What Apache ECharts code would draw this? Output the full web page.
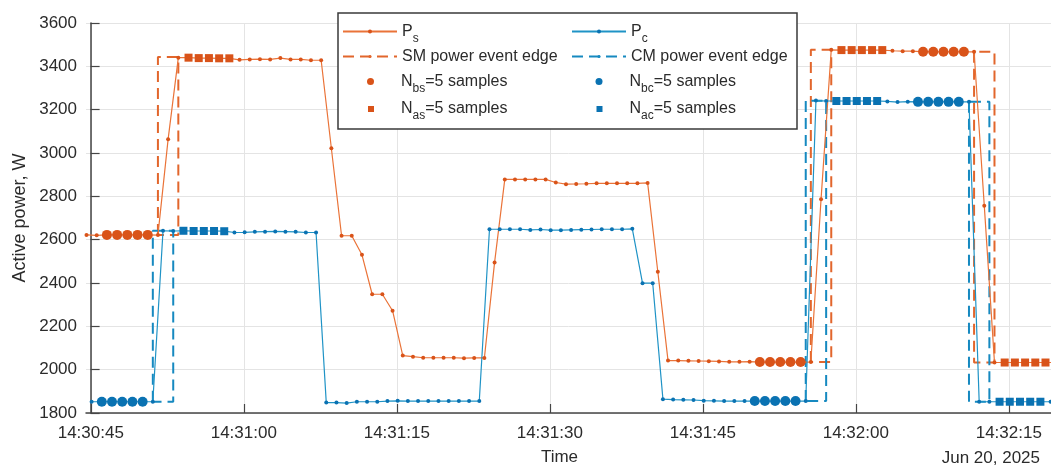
<!DOCTYPE html>
<html><head><meta charset="utf-8">
<script src="https://cdn.jsdelivr.net/npm/echarts@6/dist/echarts.min.js"></script>
<style>html,body{margin:0;padding:0;background:#fff}#c{width:1051px;height:466px}</style>
</head><body><div id="c"></div>
<script>
// ---------- data ----------
const startClock = '14:30:45';          // time of x = 0 s
const dateLabel = 'Jun 20, 2025';
const xTickStep = 15;                   // seconds
const yMin = 1800, yMax = 3600, yStep = 200;

// sample timing (seconds from 14:30:45)
const psStart = -0.4, pcStart = 0.1, samplePeriod = 1;

// P_s (SM active power, W), one sample per second
const psValues = [
  2622, 2620, 2622, 2622, 2622, 2622, 2622, 2621, 3064, 3440,
  3440, 3438, 3438, 3437, 3437,
  3430, 3432, 3433, 3432, 3438, 3432, 3432, 3428, 3428,
  3022, 2618, 2618, 2530, 2348, 2348, 2272, 2065, 2060,
  2055, 2055, 2055, 2055, 2053, 2054, 2054,
  2495, 2878, 2878, 2878, 2878, 2878, 2864, 2856,
  2857, 2858, 2860, 2860, 2860, 2860, 2860, 2862,
  2452, 2042, 2042, 2041, 2040, 2039, 2038, 2036, 2036, 2037,
  2035, 2035, 2035, 2035, 2035, 2035, 2787, 3476,
  3475, 3475, 3475, 3475, 3475, 3472, 3470, 3470,
  3467, 3467, 3467, 3467, 3467, 3467, 2757, 2033,
  2033, 2033, 2033, 2033, 2033, 2033
];
// P_c (CM active power, W)
const pcValues = [
  1852, 1852, 1852, 1852, 1852, 1852, 1852, 2641, 2640,
  2641, 2640, 2640, 2640, 2639,
  2633, 2634, 2636, 2637, 2638, 2637, 2636, 2633, 2633,
  1848, 1848, 1846, 1852, 1852, 1852, 1855, 1856,
  1855, 1855, 1855, 1855, 1855, 1855, 1855, 1855,
  2648, 2648, 2648, 2648, 2645, 2647, 2644, 2644, 2645, 2646, 2647, 2648, 2648, 2648, 2650,
  2399, 2399, 1864,
  1862, 1861, 1860, 1857, 1856, 1855, 1855, 1855,
  1855, 1855, 1855, 1855, 1855,
  1855, 3242, 3240,
  3240, 3240, 3240, 3240, 3240,
  3238, 3235, 3237,
  3236, 3236, 3236, 3236, 3236,
  3236, 1852, 1852,
  1852, 1852, 1852, 1852, 1852,
  1852
];

// N = 5 sample windows (first sample index of each window)
const windowLength = 5;
const psBeforeIdx = [2, 66, 82];
const psAfterIdx = [10, 74, 90];
const pcBeforeIdx = [1, 65, 81];
const pcAfterIdx = [9, 73, 89];

// power event edges (seconds from 14:30:45, levels in W)
const smEdgeStart = [6.6, 70.6, 86.6];
const smEdgeEnd = [8.6, 72.6, 88.6];
const smLevelBefore = [2621, 2035, 3467];
const smLevelAfter = [3443, 3476, 2033];
const cmEdgeStart = [6.1, 70.1, 86.1];
const cmEdgeEnd = [8.1, 72.1, 88.1];
const cmLevelBefore = [1852, 1855, 3237];
const cmLevelAfter = [2641, 3241, 1852];

// ---------- styling ----------
const FONT = 'Liberation Sans, Arial, sans-serif';
const TXT = '#2b2b2b';
const ORANGE_LINE = '#ea7338', ORANGE_MARK = '#d95319', ORANGE_DASH = '#e2662c';
const BLUE_LINE = '#1f93c6', BLUE_MARK = '#0a72b2', BLUE_DASH = '#1689c0';

const psSeries = psValues.map((v, i) => [psStart + i * samplePeriod, v]);
const pcSeries = pcValues.map((v, i) => [pcStart + i * samplePeriod, v]);
function windowPoints(src, starts) {
  const out = [];
  starts.forEach(s => { for (let j = 0; j < windowLength; j++) out.push(src[s + j]); });
  return out;
}
function edgeRect(x1, x2, a, b) {
  return [[x1, a], [x1, b], [x2, b], [x2, a], [x1, a]];
}
function clock(v) {
  const p = startClock.split(':').map(Number);
  const t = p[0] * 3600 + p[1] * 60 + p[2] + Math.round(v);
  const f = n => String(n).padStart(2, '0');
  return f(Math.floor(t / 3600)) + ':' + f(Math.floor((t % 3600) / 60)) + ':' + f(t % 60);
}

const series = [];
smEdgeStart.forEach((s, i) => series.push({
  name: 'SM power event edge', type: 'line', xAxisIndex: 0, yAxisIndex: 0,
  data: edgeRect(s, smEdgeEnd[i], smLevelBefore[i], smLevelAfter[i]),
  symbol: 'none', z: 2, lineStyle: { color: ORANGE_DASH, width: 2, type: [11, 6] }, itemStyle: { color: ORANGE_DASH }
}));
cmEdgeStart.forEach((s, i) => series.push({
  name: 'CM power event edge', type: 'line', xAxisIndex: 0, yAxisIndex: 0,
  data: edgeRect(s, cmEdgeEnd[i], cmLevelBefore[i], cmLevelAfter[i]),
  symbol: 'none', z: 2, lineStyle: { color: BLUE_DASH, width: 2, type: [11, 6] }, itemStyle: { color: BLUE_DASH }
}));
series.push({
  name: 'Ps', type: 'line', xAxisIndex: 0, yAxisIndex: 0, data: psSeries,
  symbol: 'circle', symbolSize: 4, showAllSymbol: true, z: 3,
  lineStyle: { color: ORANGE_LINE, width: 1.2 }, itemStyle: { color: ORANGE_MARK }
});
series.push({
  name: 'Pc', type: 'line', xAxisIndex: 0, yAxisIndex: 0, data: pcSeries,
  symbol: 'circle', symbolSize: 4, showAllSymbol: true, z: 3,
  lineStyle: { color: BLUE_LINE, width: 1.2 }, itemStyle: { color: BLUE_MARK }
});
[['Nbs', psSeries, psBeforeIdx, 'circle', 10, ORANGE_MARK],
 ['Nas', psSeries, psAfterIdx, 'rect', 8, ORANGE_MARK],
 ['Nbc', pcSeries, pcBeforeIdx, 'circle', 10, BLUE_MARK],
 ['Nac', pcSeries, pcAfterIdx, 'rect', 8, BLUE_MARK]].forEach(d => series.push({
  name: d[0], type: 'scatter', xAxisIndex: 0, yAxisIndex: 0,
  data: windowPoints(d[1], d[2]), symbol: d[3], symbolSize: d[4], z: 4,
  itemStyle: { color: d[5], opacity: 1 }
}));

const rich = {
  m: { fontSize: 16, lineHeight: 18, color: TXT, fontFamily: FONT, verticalAlign: 'middle' },
  s: { fontSize: 12, lineHeight: 12, padding: [14, 0, 0, 0], color: TXT, fontFamily: FONT, verticalAlign: 'middle' },
  g: { width: 22, fontSize: 16, lineHeight: 18 }
};
const legendDefs = [
  { name: 'Ps', text: '{m|P}{s|s}', left: 342, top: 31.5 - 13, w: 54, h: 5 },
  { name: 'Pc', text: '{m|P}{s|c}', left: 571, top: 31.5 - 13, w: 54, h: 5 },
  { name: 'SM power event edge', text: '{m|SM power event edge}', left: 342, top: 57.5 - 9, w: 54, h: 4 },
  { name: 'CM power event edge', text: '{m|CM power event edge}', left: 571, top: 57.5 - 9, w: 54, h: 4 },
  { name: 'Nbs', text: '{g| }{m|N}{s|bs}{m|=5 samples}', left: 367, top: 81.5 - 13, w: 7, h: 7, icon: 'circle' },
  { name: 'Nbc', text: '{g| }{m|N}{s|bc}{m|=5 samples}', left: 595.5, top: 81.5 - 13, w: 7, h: 7, icon: 'circle' },
  { name: 'Nas', text: '{g| }{m|N}{s|as}{m|=5 samples}', left: 368, top: 109 - 13, w: 6, h: 6, icon: 'rect' },
  { name: 'Nac', text: '{g| }{m|N}{s|ac}{m|=5 samples}', left: 596.5, top: 109 - 13, w: 6, h: 6, icon: 'rect' }
];
const legend = legendDefs.map(d => ({
  data: [d.icon ? { name: d.name, icon: d.icon } : d.name], left: d.left, top: d.top, padding: 0, itemGap: 0,
  itemWidth: d.w, itemHeight: d.h, selectedMode: false, z: 6,
  formatter: () => d.text, textStyle: { rich: rich, fontFamily: FONT, fontSize: 16, color: TXT }
}));

const axisCol = '#454545', gridCol = '#e4e4e4';
const option = {
  animation: false,
  backgroundColor: '#fff',
  grid: [
    { left: 86, right: 0, top: 23, bottom: 53, containLabel: false, outerBoundsMode: 'none' },
    { left: 90.8, right: 0, top: 23, bottom: 53, containLabel: false, outerBoundsMode: 'none' }
  ],
  xAxis: [
    { gridIndex: 0, type: 'value', min: -0.45, max: 94.14,
      axisLine: { show: true, lineStyle: { color: axisCol, width: 1.5 } },
      axisTick: { show: false }, axisLabel: { show: false }, splitLine: { show: false },
      name: 'Time', nameLocation: 'middle', nameGap: 36, nameMoveOverlap: false,
      nameTextStyle: { fontSize: 17, color: TXT, fontFamily: FONT, padding: [0, 18, 0, 0] } },
    { gridIndex: 1, type: 'value', min: 0, max: 94.14, interval: xTickStep,
      axisLine: { show: false },
      axisTick: { show: true, inside: true, length: 9, lineStyle: { color: axisCol, width: 1.2 } },
      axisLabel: { formatter: clock, margin: 12, showMaxLabel: false, fontSize: 17, color: TXT, fontFamily: FONT },
      splitLine: { show: true, lineStyle: { color: gridCol, width: 1 } } }
  ],
  yAxis: [
    { gridIndex: 0, type: 'value', min: yMin, max: yMax, interval: yStep,
      axisLine: { show: true, lineStyle: { color: axisCol, width: 1.5 } },
      axisTick: { show: true, inside: true, length: 9, lineStyle: { color: axisCol, width: 1.2 } },
      axisLabel: { margin: 9, fontSize: 17, color: TXT, fontFamily: FONT, formatter: v => String(v) },
      splitLine: { show: true, lineStyle: { color: gridCol, width: 1 } },
      name: 'Active power, W', nameLocation: 'middle', nameGap: 57, nameMoveOverlap: false,
      nameTextStyle: { fontSize: 18, color: TXT, fontFamily: FONT } },
    { gridIndex: 1, type: 'value', min: yMin, max: yMax, show: false, splitLine: { show: false } }
  ],
  legend: legend,
  graphic: [
    { type: 'rect', z: 3, shape: { x: 338, y: 13, width: 459, height: 116 },
      style: { fill: '#fff', stroke: '#3a3a3a', lineWidth: 1.5 } },
    { type: 'text', z: 3, style: { text: dateLabel, x: 1040, y: 458, align: 'right', verticalAlign: 'middle',
      fontSize: 17, fontFamily: FONT, fill: TXT } }
  ],
  series: series
};
echarts.init(document.getElementById('c'), null, { renderer: 'canvas' }).setOption(option);
</script>
</body></html>
